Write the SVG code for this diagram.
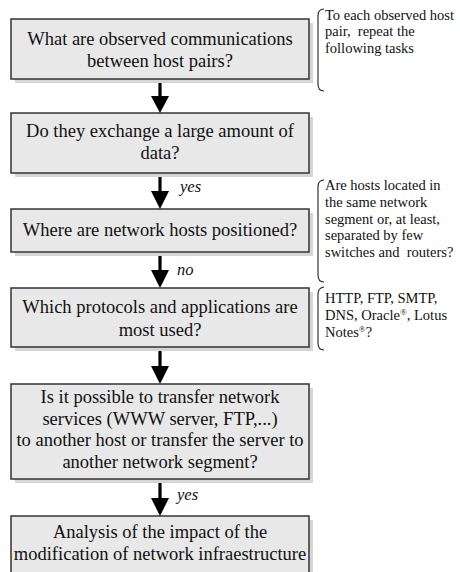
<svg xmlns="http://www.w3.org/2000/svg" width="460" height="572" viewBox="0 0 460 572">
<style>
.box{fill:#e8e8e8;stroke:#333;stroke-width:1.5}
.sh{fill:#d6d6d6}
.t{font-family:"Liberation Serif","Times New Roman",serif;font-size:18.5px;fill:#111;text-anchor:middle}
.s{font-family:"Liberation Serif","Times New Roman",serif;font-size:14.5px;fill:#111}
.lb{font-family:"Liberation Serif","Times New Roman",serif;font-size:16.5px;font-style:italic;fill:#111}
.br{fill:none;stroke:#222;stroke-width:1.1}
.sh2{stroke:#000;stroke-width:3.2}
.ah{fill:#000}
</style>
<g id="connectors">
<line class="sh2" x1="160" y1="79" x2="160" y2="97"/><path class="ah" d="M151,96 L169,96 L160,113 Z"/>
<line class="sh2" x1="160" y1="173" x2="160" y2="192"/><path class="ah" d="M151,191 L169,191 L160,209 Z"/>
<line class="sh2" x1="160" y1="252" x2="160" y2="271"/><path class="ah" d="M151,270 L169,270 L160,288 Z"/>
<line class="sh2" x1="160" y1="347" x2="160" y2="367"/><path class="ah" d="M151,366 L169,366 L160,384 Z"/>
<line class="sh2" x1="160" y1="479" x2="160" y2="499"/><path class="ah" d="M151,498 L169,498 L160,516 Z"/>
<text class="lb" x="180" y="192">yes</text>
<text class="lb" x="177" y="275">no</text>
<text class="lb" x="177" y="500">yes</text>
</g>
<g id="n1">
<rect class="sh" x="15" y="23" width="298" height="60"/>
<rect class="box" x="11" y="19" width="298" height="60"/>
<text class="t" x="160" y="45">What are observed communications</text>
<text class="t" x="160" y="67">between host pairs?</text>
</g>
<g id="n2">
<rect class="sh" x="15" y="117" width="298" height="60"/>
<rect class="box" x="11" y="113" width="298" height="60"/>
<text class="t" x="160" y="137">Do they exchange a large amount of</text>
<text class="t" x="160" y="159">data?</text>
</g>
<g id="n3">
<rect class="sh" x="15" y="213" width="298" height="43"/>
<rect class="box" x="11" y="209" width="298" height="43"/>
<text class="t" x="160" y="236">Where are network hosts positioned?</text>
</g>
<g id="n4">
<rect class="sh" x="15" y="292" width="298" height="59"/>
<rect class="box" x="11" y="288" width="298" height="59"/>
<text class="t" x="160" y="313">Which protocols and applications are</text>
<text class="t" x="160" y="336">most used?</text>
</g>
<g id="n5">
<rect class="sh" x="15" y="388" width="298" height="95"/>
<rect class="box" x="11" y="384" width="298" height="95"/>
<text class="t" x="160" y="403">Is it possible to transfer network</text>
<text class="t" x="160" y="424.5">services (WWW server, FTP,...)</text>
<text class="t" x="160" y="446">to another host or transfer the server to</text>
<text class="t" x="160" y="467.5">another network segment?</text>
</g>
<g id="n6">
<rect class="sh" x="15" y="520" width="298" height="60"/>
<rect class="box" x="11" y="516" width="298" height="64"/>
<text class="t" x="160" y="538">Analysis of the impact of the</text>
<text class="t" x="160" y="560">modification of network infraestructure</text>
</g>
<g id="note1">
<path class="br" d="M324,9 Q318,9 318,16 L318,84 Q318,91 324,91"/>
<text class="s" x="325" y="20">To each observed host</text>
<text class="s" x="325" y="36" xml:space="preserve">pair,  repeat the</text>
<text class="s" x="325" y="53">following tasks</text>
</g>
<g id="note2">
<path class="br" d="M324,180 Q318,180 318,187 L318,275 Q318,282 324,282"/>
<text class="s" x="325" y="190">Are hosts located in</text>
<text class="s" x="325" y="207">the same network</text>
<text class="s" x="325" y="224">segment or, at least,</text>
<text class="s" x="325" y="240">separated by few</text>
<text class="s" x="325" y="257" xml:space="preserve">switches and  routers?</text>
</g>
<g id="note3">
<path class="br" d="M324,287 Q318,288 318,294 L318,343 Q318,350 324,350"/>
<text class="s" x="325" y="303">HTTP, FTP, SMTP,</text>
<text class="s" x="325" y="320">DNS, Oracle<tspan font-size="9" dy="-5">®</tspan><tspan dy="5">, Lotus</tspan></text>
<text class="s" x="325" y="337">Notes<tspan font-size="9" dy="-5">®</tspan><tspan dy="5">?</tspan></text>
</g>
</svg>
